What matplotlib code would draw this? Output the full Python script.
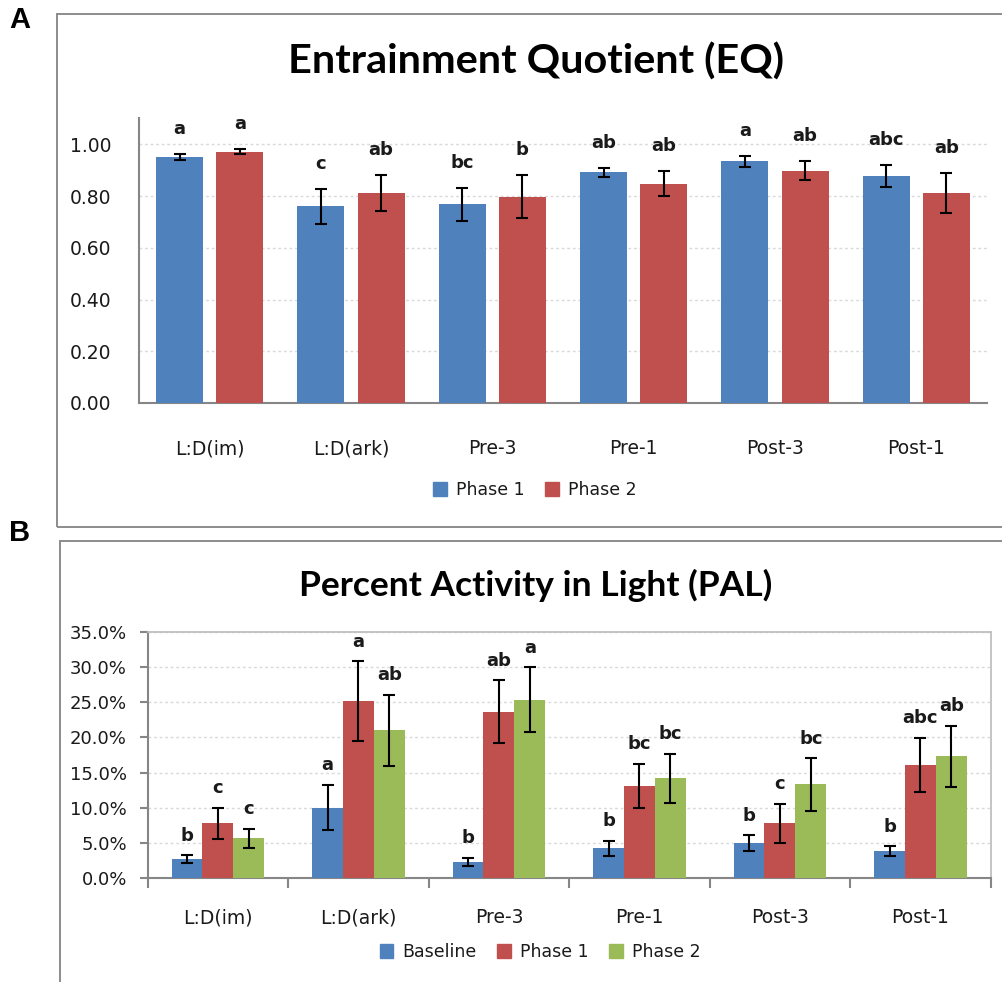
import matplotlib
matplotlib.use("Agg")
import matplotlib.pyplot as plt
import numpy as np
from matplotlib.patches import Rectangle, Patch
from matplotlib.ticker import FuncFormatter

# ---- data ----
conditions = ["L:D(im)", "L:D(ark)", "Pre-3", "Pre-1", "Post-3", "Post-1"]

eq_phase1 = [0.95, 0.76, 0.768, 0.892, 0.934, 0.876]
eq_phase1_err = [0.012, 0.068, 0.064, 0.017, 0.022, 0.043]
eq_phase2 = [0.971, 0.812, 0.798, 0.848, 0.898, 0.812]
eq_phase2_err = [0.010, 0.069, 0.083, 0.048, 0.036, 0.077]
eq_phase1_letters = ["a", "c", "bc", "ab", "a", "abc"]
eq_phase2_letters = ["a", "ab", "b", "ab", "ab", "ab"]

pal_baseline = [0.026, 0.100, 0.023, 0.042, 0.049, 0.038]
pal_baseline_err = [0.0057, 0.0325, 0.0057, 0.0107, 0.0114, 0.0070]
pal_phase1 = [0.0776, 0.252, 0.237, 0.131, 0.0776, 0.161]
pal_phase1_err = [0.022, 0.057, 0.045, 0.0316, 0.028, 0.0387]
pal_phase2 = [0.056, 0.210, 0.254, 0.142, 0.133, 0.173]
pal_phase2_err = [0.014, 0.051, 0.0465, 0.035, 0.0375, 0.044]
pal_baseline_letters = ["b", "a", "b", "b", "b", "b"]
pal_phase1_letters = ["c", "a", "ab", "bc", "c", "abc"]
pal_phase2_letters = ["c", "ab", "a", "bc", "bc", "ab"]

BLUE = "#4F81BD"
RED = "#C0504D"
GREEN = "#9BBB59"
AXIS_GRAY = "#868686"
TEXT = "#1a1a1a"

W, H = 1002, 982
fig = plt.figure(figsize=(W / 100, H / 100), dpi=100)


def fx(px):
    return px / W


def fy(py):
    return 1 - py / H


# panel frames
fig.patches.append(Rectangle((fx(57), fy(527)), fx(1010 - 57), fy(14) - fy(527),
                             transform=fig.transFigure, fill=False,
                             edgecolor="#8c8c8c", linewidth=1.4))
fig.patches.append(Rectangle((fx(60), fy(1000)), fx(1010 - 60), fy(541) - fy(1000),
                             transform=fig.transFigure, fill=False,
                             edgecolor="#8c8c8c", linewidth=1.4))

fig.text(fx(20), fy(20), "A", fontsize=21, fontweight="bold",
         family="Liberation Sans", ha="center", va="center")
fig.text(fx(20), fy(533), "B", fontsize=21, fontweight="bold",
         family="Liberation Sans", ha="center", va="center")

err_kw = dict(ecolor="black", elinewidth=1.5, capsize=4.5, capthick=1.5)
letter_kw = dict(ha="center", va="center", fontsize=13, fontweight="bold",
                 family="DejaVu Sans", color=TEXT)

# ---------------- Panel A ----------------
axA = fig.add_axes([fx(139), fy(403), fx(987) - fx(139), fy(118.4) - fy(403)])
x = np.arange(len(conditions))
bw = 0.333
off = 0.213
axA.bar(x - off, eq_phase1, bw, color=BLUE, yerr=eq_phase1_err, error_kw=err_kw,
        label="Phase 1", zorder=3)
axA.bar(x + off, eq_phase2, bw, color=RED, yerr=eq_phase2_err, error_kw=err_kw,
        label="Phase 2", zorder=3)
for i in range(len(conditions)):
    axA.annotate(eq_phase1_letters[i], (x[i] - off, eq_phase1[i] + eq_phase1_err[i]),
                 xytext=(0, 18), textcoords="offset points", **letter_kw)
    axA.annotate(eq_phase2_letters[i], (x[i] + off, eq_phase2[i] + eq_phase2_err[i]),
                 xytext=(0, 18), textcoords="offset points", **letter_kw)

axA.set_xlim(-0.5, len(conditions) - 0.5)
axA.set_ylim(0, 1.1)
axA.set_yticks(np.arange(0, 1.01, 0.2))
axA.yaxis.set_major_formatter(FuncFormatter(lambda v, p: f"{v:.2f}"))
axA.set_xticks(x)
axA.set_xticklabels(conditions)
axA.tick_params(axis="both", length=0, labelsize=13.5, colors=TEXT)
axA.tick_params(axis="x", pad=26)
axA.tick_params(axis="y", pad=20)
for s in ["top", "right"]:
    axA.spines[s].set_visible(False)
for s in ["left", "bottom"]:
    axA.spines[s].set_color(AXIS_GRAY)
    axA.spines[s].set_linewidth(1.5)
axA.yaxis.grid(True, linestyle=(0, (2, 2)), color="#d9d9d9", linewidth=1, zorder=0)
axA.set_axisbelow(True)

fig.text(fx(535.5), fy(62), "Entrainment Quotient (EQ)", fontsize=29.8,
         fontweight="bold", family="Lato", ha="center", va="center", color="black")

legA = fig.legend(handles=[Patch(color=BLUE, label="Phase 1"),
                           Patch(color=RED, label="Phase 2")],
                  loc="center", bbox_to_anchor=(fx(535), fy(490)), ncol=2,
                  frameon=False, fontsize=12.5, handlelength=0.8, handleheight=0.8,
                  handletextpad=0.5, columnspacing=1.2)
for t in legA.get_texts():
    t.set_color(TEXT)

# ---------------- Panel B ----------------
axB = fig.add_axes([fx(147.7), fy(877.7), fx(990.7) - fx(147.7), fy(632.3) - fy(877.7)])
bwB = 0.22
axB.bar(x - bwB, pal_baseline, bwB, color=BLUE, yerr=pal_baseline_err,
        error_kw=err_kw, label="Baseline", zorder=3)
axB.bar(x, pal_phase1, bwB, color=RED, yerr=pal_phase1_err,
        error_kw=err_kw, label="Phase 1", zorder=3)
axB.bar(x + bwB, pal_phase2, bwB, color=GREEN, yerr=pal_phase2_err,
        error_kw=err_kw, label="Phase 2", zorder=3)
for i in range(len(conditions)):
    for dx, vals, errs, letters in [(-bwB, pal_baseline, pal_baseline_err, pal_baseline_letters),
                                    (0, pal_phase1, pal_phase1_err, pal_phase1_letters),
                                    (bwB, pal_phase2, pal_phase2_err, pal_phase2_letters)]:
        axB.annotate(letters[i], (x[i] + dx, vals[i] + errs[i]),
                     xytext=(0, 14), textcoords="offset points", **letter_kw)

axB.set_xlim(-0.5, len(conditions) - 0.5)
axB.set_ylim(0, 0.35)
axB.set_yticks(np.arange(0, 0.351, 0.05))
axB.yaxis.set_major_formatter(FuncFormatter(lambda v, p: f"{v * 100:.1f}%"))
axB.set_xticks(x)
axB.set_xticklabels(conditions)
axB.set_xticks(np.arange(-0.5, len(conditions), 1.0), minor=True)
axB.tick_params(axis="x", which="major", length=0, labelsize=13.5, colors=TEXT, pad=22)
axB.tick_params(axis="x", which="minor", length=7, width=1.5, color=AXIS_GRAY, direction="out")
axB.tick_params(axis="y", length=6, width=1.5, color=AXIS_GRAY, labelsize=13,
                labelcolor=TEXT, pad=9)
for s in ["top", "right"]:
    axB.spines[s].set_color("#bfbfbf")
    axB.spines[s].set_linewidth(1.3)
for s in ["left", "bottom"]:
    axB.spines[s].set_color(AXIS_GRAY)
    axB.spines[s].set_linewidth(1.5)
axB.yaxis.grid(True, linestyle=(0, (2, 2)), color="#d9d9d9", linewidth=1, zorder=0)
axB.set_axisbelow(True)

fig.text(fx(536), fy(585), "Percent Activity in Light (PAL)", fontsize=25.5,
         fontweight="bold", family="Lato", ha="center", va="center", color="black")

legB = fig.legend(handles=[Patch(color=BLUE, label="Baseline"),
                           Patch(color=RED, label="Phase 1"),
                           Patch(color=GREEN, label="Phase 2")],
                  loc="center", bbox_to_anchor=(fx(540), fy(952)), ncol=3,
                  frameon=False, fontsize=12.5, handlelength=0.8, handleheight=0.8,
                  handletextpad=0.5, columnspacing=1.2)
for t in legB.get_texts():
    t.set_color(TEXT)

fig.savefig("out.png", dpi=100)
